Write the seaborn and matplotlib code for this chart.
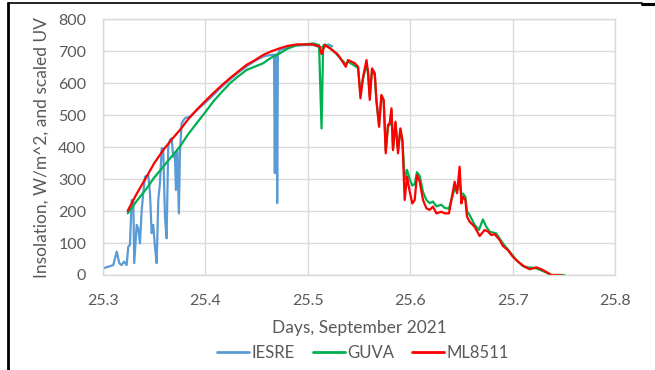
import matplotlib
matplotlib.use("Agg")
import matplotlib.pyplot as plt
from matplotlib.lines import Line2D
import pandas as pd
import seaborn as sns

# IESRE pyranometer insolation (W/m^2)
iesre_x = [25.3003, 25.3100, 25.3134, 25.3159, 25.3182, 25.3205, 25.3231, 25.3247,
           25.3263, 25.3280, 25.3296, 25.3305, 25.3329, 25.3344, 25.3361, 25.3378,
           25.3393, 25.3410, 25.3442, 25.3459, 25.3475, 25.3491, 25.3507, 25.3524,
           25.3540, 25.3556, 25.3573, 25.3588, 25.3605, 25.3621, 25.3637, 25.3654,
           25.3670, 25.3686, 25.3702, 25.3712, 25.3725, 25.3741, 25.3751, 25.3768,
           25.3800, 25.3849, 25.3914, 25.4000, 25.4076, 25.4160, 25.4239, 25.4320,
           25.4402, 25.4480, 25.4564, 25.4620, 25.4670, 25.4678, 25.4685, 25.4695,
           25.4701, 25.4708, 25.4727, 25.4800, 25.4890, 25.4970, 25.5052, 25.5100,
           25.5150, 25.5200, 25.5240]
iesre_y = [21, 31, 73, 37, 31, 42, 31, 89,
           94, 235, 230, 37, 157, 146, 99, 203,
           256, 308, 313, 256, 131, 157, 89, 37,
           235, 287, 397, 397, 183, 115, 402, 423,
           428, 370, 381, 266, 391, 193, 381, 475,
           491, 496, 515, 540, 563, 590, 612, 634,
           653, 670, 684, 688, 690, 319, 690, 690,
           225, 692, 705, 712, 718, 720, 720, 715,
           712, 722, 716]

# GUVA UV sensor, scaled
guva_x = [25.3241, 25.3330, 25.3426, 25.3500, 25.3588, 25.3670, 25.3751, 25.3830,
          25.3914, 25.4000, 25.4076, 25.4160, 25.4239, 25.4320, 25.4402, 25.4480,
          25.4564, 25.4640, 25.4727, 25.4792, 25.4890, 25.4970, 25.5052, 25.5110,
          25.5134, 25.5150, 25.5166, 25.5215, 25.5280, 25.5296, 25.5371, 25.5393,
          25.5459, 25.5491, 25.5514, 25.5540, 25.5573, 25.5588, 25.5605, 25.5627,
          25.5654, 25.5670, 25.5696, 25.5719, 25.5741, 25.5761, 25.5783, 25.5800,
          25.5817, 25.5832, 25.5856, 25.5881, 25.5904, 25.5924, 25.5946, 25.5969,
          25.5995, 25.6021, 25.6044, 25.6066, 25.6093, 25.6125, 25.6158, 25.6190,
          25.6222, 25.6256, 25.6304, 25.6337, 25.6379, 25.6402, 25.6434, 25.6457,
          25.6483, 25.6500, 25.6515, 25.6539, 25.6554, 25.6580, 25.6629, 25.6671,
          25.6710, 25.6743, 25.6776, 25.6841, 25.6905, 25.6971, 25.7036, 25.7100,
          25.7149, 25.7231, 25.7312, 25.7378, 25.7507]
guva_y = [193, 232, 271, 305, 339, 371, 402, 440,
          475, 510, 543, 573, 600, 622, 642, 652,
          663, 680, 694, 707, 720, 722, 725, 720,
          459, 718, 722, 712, 692, 686, 660, 668,
          655, 648, 570, 615, 660, 630, 560, 640,
          625, 545, 470, 560, 545, 390, 465, 470,
          515, 395, 475, 390, 455, 420, 300, 329,
          300, 280, 285, 322, 310, 260, 235, 225,
          230, 215, 220, 210, 208, 235, 270, 262,
          290, 250, 255, 245, 200, 188, 157, 141,
          174, 151, 136, 130, 99, 73, 47, 28,
          24, 21, 10, 0, 0]

# ML8511 UV sensor, scaled
ml_x = [25.3241, 25.3330, 25.3426, 25.3500, 25.3588, 25.3670, 25.3751, 25.3830,
        25.3914, 25.4000, 25.4076, 25.4160, 25.4239, 25.4320, 25.4402, 25.4480,
        25.4564, 25.4640, 25.4727, 25.4800, 25.4890, 25.4970, 25.5052, 25.5117,
        25.5134, 25.5166, 25.5215, 25.5280, 25.5296, 25.5371, 25.5393, 25.5459,
        25.5491, 25.5514, 25.5540, 25.5573, 25.5588, 25.5605, 25.5627, 25.5654,
        25.5670, 25.5696, 25.5719, 25.5741, 25.5761, 25.5783, 25.5800, 25.5817,
        25.5832, 25.5856, 25.5881, 25.5904, 25.5924, 25.5946, 25.5969, 25.5995,
        25.6021, 25.6044, 25.6066, 25.6093, 25.6125, 25.6158, 25.6190, 25.6222,
        25.6256, 25.6304, 25.6337, 25.6379, 25.6402, 25.6434, 25.6457, 25.6483,
        25.6500, 25.6515, 25.6539, 25.6554, 25.6580, 25.6629, 25.6678, 25.6727,
        25.6759, 25.6792, 25.6824, 25.6873, 25.6905, 25.6954, 25.7003, 25.7052,
        25.7117, 25.7166, 25.7231, 25.7280, 25.7327, 25.7378, 25.7475]
ml_y = [201, 255, 308, 350, 391, 424, 454, 487,
        517, 545, 569, 594, 616, 637, 658, 672,
        689, 700, 710, 717, 722, 722, 722, 715,
        692, 720, 710, 694, 689, 652, 673, 663,
        652, 553, 621, 673, 637, 548, 647, 632,
        548, 464, 564, 548, 381, 470, 475, 522,
        391, 480, 381, 459, 423, 235, 308, 261,
        224, 235, 313, 292, 235, 209, 204, 214,
        193, 198, 193, 193, 235, 292, 256, 339,
        224, 245, 235, 183, 167, 151, 122, 141,
        136, 125, 128, 110, 91, 78, 57, 42,
        26, 18, 24, 18, 10, 0, 0]

x_ticks = [25.3, 25.4, 25.5, 25.6, 25.7, 25.8]
y_ticks = [0, 100, 200, 300, 400, 500, 600, 700, 800]

series = {
    "IESRE": (iesre_x, iesre_y, "#5B9BD5"),
    "GUVA": (guva_x, guva_y, "#00B050"),
    "ML8511": (ml_x, ml_y, "#FF0000"),
}
frames = [pd.DataFrame({"day": xs, "value": ys, "sensor": name})
          for name, (xs, ys, _) in series.items()]
data = pd.concat(frames, ignore_index=True)
palette = {name: c for name, (_, _, c) in series.items()}

sns.set_style("whitegrid")
plt.rcParams["font.family"] = ["Lato", "DejaVu Sans"]

text_color = "#595959"
grid_color = "#D9D9D9"

fig = plt.figure(figsize=(6.55, 3.70), dpi=100)
ax = fig.add_axes([103 / 655, 1 - 275 / 370, 512 / 655, 255.5 / 370])

sns.lineplot(data=data, x="day", y="value", hue="sensor", palette=palette,
             hue_order=list(series.keys()), estimator=None, sort=False,
             linewidth=1.6, ax=ax, legend=False)

ax.set_xlim(25.3, 25.8)
ax.set_ylim(0, 800)
ax.set_xticks(x_ticks)
ax.set_xticklabels([f"{t:.1f}" for t in x_ticks])
ax.set_yticks(y_ticks)
ax.grid(True, color=grid_color, linewidth=1.0)
for sp in ax.spines.values():
    sp.set_color(grid_color)
    sp.set_linewidth(1.0)
ax.tick_params(axis="both", length=0, labelsize=11.5, colors=text_color)
ax.tick_params(axis="x", pad=14)
ax.tick_params(axis="y", pad=12)

ax.set_xlabel("Days, September 2021", fontsize=12.5, color=text_color, labelpad=8)
ax.set_ylabel("Insolation, W/m^2, and scaled UV", fontsize=12.5, color=text_color, labelpad=6)

handles = [Line2D([0], [0], color=c, linewidth=2) for (_, _, c) in series.values()]
fig.legend(handles, list(series.keys()), loc="center", bbox_to_anchor=(363 / 655, 1 - 353 / 370),
           ncol=3, frameon=False, fontsize=12, handlelength=1.9, handletextpad=0.15,
           columnspacing=1.1, labelcolor=text_color)

# outer frame lines along the top and left edges
fig.add_artist(Line2D([8 / 655, 8 / 655], [0, 1 - 3 / 370], color="black", linewidth=2,
                      transform=fig.transFigure))
fig.add_artist(Line2D([8 / 655, 642 / 655], [1 - 3 / 370, 1 - 3 / 370], color="black",
                      linewidth=1.2, transform=fig.transFigure))
fig.add_artist(Line2D([642 / 655, 1], [1 - 3.5 / 370, 1 - 3.5 / 370], color="black",
                      linewidth=2.2, transform=fig.transFigure))

fig.savefig("out.png", dpi=100)
